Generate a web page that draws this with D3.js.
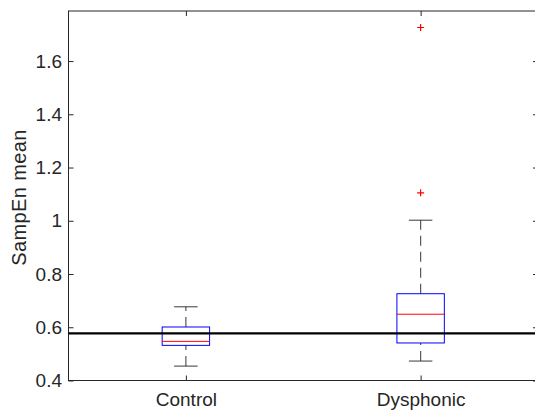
<!DOCTYPE html>
<html lang="en">
<head>
<meta charset="UTF-8">
<title>SampEn mean boxplot</title>
<style>
    body { margin: 0; background: #fff; }
    svg { display: block; }
    .axis path, .axis line { stroke: #262626; }
</style>
</head>
<body>
<svg id="chart" width="535" height="410"></svg>
<script src="https://d3js.org/d3.v7.min.js"></script>
<script>
// data
const groups = ["Control", "Dysphonic"];
const lowerWhisker = [0.454, 0.473];
const q1 = [0.532, 0.541];
const median = [0.547, 0.649];
const q3 = [0.601, 0.726];
const upperWhisker = [0.677, 1.002];
const outliers = [[], [1.105, 1.726]];
const refLine = 0.577;
const yTicks = [0.4, 0.6, 0.8, 1, 1.2, 1.4, 1.6];

const svg = d3.select("#chart");
const plotLeft = 68.5, plotRight = 538, plotTop = 11, plotBottom = 380.5;
const font = "Liberation Sans, Arial, Helvetica, sans-serif";
const fontSize = 19;

// x in MATLAB style units: groups at 1 and 2, limits 0.5..2.5
const x = d3.scaleLinear().domain([0.5, 2.5]).range([plotLeft, plotRight]);
const y = d3.scaleLinear().domain([0.4, 1.788]).range([plotBottom, plotTop]);

const boxHalf = 0.101, capHalf = 0.05;

function styleText(g) {
    g.selectAll("text")
        .attr("fill", "#262626")
        .attr("font-family", font)
        .attr("font-size", fontSize);
}

// axes (ticks inward)
svg.append("g")
    .attr("class", "axis")
    .attr("transform", `translate(${plotLeft},0)`)
    .call(d3.axisLeft(y).tickValues(yTicks).tickSize(-5).tickPadding(6.5)
        .tickFormat(d => String(+d.toFixed(1))))
    .call(g => g.select(".domain").remove())
    .call(styleText);

svg.append("g")
    .attr("class", "axis")
    .attr("transform", `translate(${plotRight},0)`)
    .call(d3.axisRight(y).tickValues(yTicks).tickSize(-5).tickFormat(""))
    .call(g => g.select(".domain").remove());

svg.append("g")
    .attr("class", "axis")
    .attr("transform", `translate(0,${plotBottom})`)
    .call(d3.axisBottom(x).tickValues([1, 2]).tickSize(-5).tickPadding(12.5)
        .tickFormat((d, i) => groups[i]))
    .call(g => g.select(".domain").remove())
    .call(styleText);

svg.append("g")
    .attr("class", "axis")
    .attr("transform", `translate(0,${plotTop})`)
    .call(d3.axisTop(x).tickValues([1, 2]).tickSize(-5).tickFormat(""))
    .call(g => g.select(".domain").remove());

svg.append("rect")
    .attr("x", plotLeft).attr("y", plotTop)
    .attr("width", plotRight - plotLeft).attr("height", plotBottom - plotTop)
    .attr("fill", "none").attr("stroke", "#262626").attr("stroke-width", 1);

// y label
svg.append("text")
    .attr("transform", "translate(25.5,197.5) rotate(-90)")
    .attr("text-anchor", "middle")
    .attr("fill", "#262626")
    .attr("font-family", font)
    .attr("font-size", 20)
    .attr("letter-spacing", 0.4)
    .text("SampEn mean");

const boxes = svg.append("g");

groups.forEach((name, i) => {
    const cx = i + 1;
    const g = boxes.append("g");
    // whiskers
    [[q3[i], upperWhisker[i]], [lowerWhisker[i], q1[i]]].forEach(([a, b]) => {
        g.append("line")
            .attr("x1", x(cx)).attr("x2", x(cx))
            .attr("y1", y(a)).attr("y2", y(b))
            .attr("stroke", "#222").attr("stroke-opacity", 0.75)
            .attr("stroke-width", 1.2)
            .attr("stroke-dasharray", "10,6");
    });
    [upperWhisker[i], lowerWhisker[i]].forEach(v => {
        g.append("line")
            .attr("x1", x(cx - capHalf)).attr("x2", x(cx + capHalf))
            .attr("y1", y(v)).attr("y2", y(v))
            .attr("stroke", "#222").attr("stroke-opacity", 0.75)
            .attr("stroke-width", 1.2);
    });
    g.append("rect")
        .attr("x", x(cx - boxHalf))
        .attr("y", y(q3[i]))
        .attr("width", x(cx + boxHalf) - x(cx - boxHalf))
        .attr("height", y(q1[i]) - y(q3[i]))
        .attr("fill", "none")
        .attr("stroke", "#0000ff").attr("stroke-width", 1);
    g.append("line")
        .attr("x1", x(cx - boxHalf)).attr("x2", x(cx + boxHalf))
        .attr("y1", y(median[i])).attr("y2", y(median[i]))
        .attr("stroke", "#ff0000").attr("stroke-width", 1);
    outliers[i].forEach(v => {
        g.append("path")
            .attr("d", `M${x(cx) - 3.5},${y(v)}h7M${x(cx)},${y(v) - 3.5}v7`)
            .attr("stroke", "#ff0000").attr("stroke-width", 1.2);
    });
});

// reference line
svg.append("line")
    .attr("x1", plotLeft).attr("x2", plotRight)
    .attr("y1", y(refLine)).attr("y2", y(refLine))
    .attr("stroke", "#000").attr("stroke-width", 2.2);
</script>
</body>
</html>
